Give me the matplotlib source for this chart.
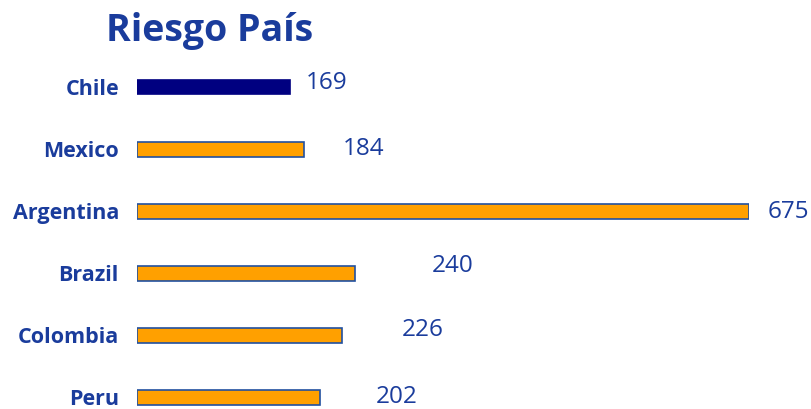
import matplotlib.pyplot as plt

# Datos del gráfico
paises = ['Chile', 'Mexico', 'Argentina', 'Brazil', 'Colombia', 'Peru']
riesgo = [169, 184, 675, 240, 226, 202]

# desplazamiento de las etiquetas de valor (x en unidades, y en puntos)
offset_x = [17, 43, 20, 85, 66, 61]
offset_y = [3, 0, -1, 5, 4, 0]

azul_texto = '#1A3C9C'
colores = ['#000080'] + ['#FFA000'] * 5
bordes = ['#000080'] + ['#2150A0'] * 5

plt.rcParams['font.family'] = ['Open Sans', 'DejaVu Sans']

fig = plt.figure(figsize=(8.12, 4.09), dpi=100)
ax = fig.add_axes([137 / 812, 0, 612 / 812, 353 / 409])

pos = range(len(paises))
ax.barh(pos, riesgo, height=0.24, color=colores, edgecolor=bordes, linewidth=1.2)

ax.set_xlim(0, 675)
ax.set_ylim(5.19, -0.5)
ax.set_yticks(list(pos))
ax.set_yticklabels(paises, fontsize=15.5, fontweight='bold', color=azul_texto)
ax.tick_params(axis='y', length=0, pad=13)
ax.set_xticks([])
for s in ax.spines.values():
    s.set_visible(False)

for i, v in enumerate(riesgo):
    ax.annotate(str(v), (v + offset_x[i], i), xytext=(0, offset_y[i]),
                textcoords='offset points', ha='left', va='center',
                fontsize=17.5, color=azul_texto, annotation_clip=False)

fig.text(210 / 812, 1 - 31 / 409, 'Riesgo País', ha='center', va='center',
         fontsize=27, fontweight='bold', color=azul_texto)

fig.savefig('out.png', dpi=100)
